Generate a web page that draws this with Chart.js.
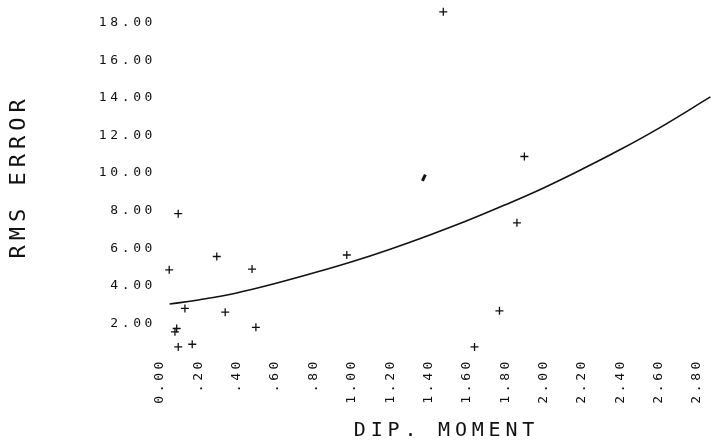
<!DOCTYPE html>
<html>
<head>
<meta charset="utf-8">
<script src="https://cdn.jsdelivr.net/npm/chart.js@4/dist/chart.umd.min.js"></script>
<style>
  html, body { margin: 0; padding: 0; background: #ffffff; }
  #c { display: block; }
</style>
</head>
<body>
<canvas id="c" width="713" height="442"></canvas>
<script>
// Measured RMS error against dipole moment
const dipMoment = [0.048, 0.095, 0.13, 0.087, 0.078, 0.095, 0.168, 0.296, 0.34, 0.48, 0.50, 0.974, 1.477, 1.64, 1.77, 1.861, 1.90, 2.885];
const rmsError  = [4.85, 7.84, 2.80, 1.73, 1.55, 0.75, 0.89, 5.56, 2.60, 4.89, 1.79, 5.64, 18.58, 0.75, 2.67, 7.35, 10.88, 15.1];

// Ink blot near the curve
const blotX = [1.376];
const blotY = [9.75];

// Fitted trend curve
const fitX = [0.05, 0.2, 0.4, 0.6, 0.8, 1.0, 1.2, 1.4, 1.6, 1.8, 2.0, 2.2, 2.4, 2.6, 2.87];
const fitY = [3.03, 3.25, 3.62, 4.12, 4.68, 5.28, 5.95, 6.68, 7.46, 8.31, 9.21, 10.20, 11.25, 12.38, 14.05];

// Axis tick labels
const xTickLabels = ['0.00', '.20', '.40', '.60', '.80', '1.00', '1.20', '1.40', '1.60', '1.80', '2.00', '2.20', '2.40', '2.60', '2.80'];
const yTickLabels = ['2.00', '4.00', '6.00', '8.00', '10.00', '12.00', '14.00', '16.00', '18.00'];

const INK = '#111111';
const MONO = '"DejaVu Sans Mono", "Liberation Mono", monospace';

const toPoints = (xs, ys) => xs.map((x, i) => ({ x, y: ys[i] }));

// Wide plotter-style letter spacing for all canvas text
const spacing = {
  id: 'spacing',
  beforeLayout(chart) { chart.ctx.letterSpacing = '3.6px'; },
  beforeDraw(chart) { chart.ctx.letterSpacing = '3.6px'; }
};

// Axis titles
const axisTitles = {
  id: 'axisTitles',
  afterDraw(chart) {
    const ctx = chart.ctx;
    const a = chart.chartArea;
    ctx.save();
    ctx.fillStyle = INK;
    ctx.textAlign = 'center';
    ctx.textBaseline = 'alphabetic';

    ctx.letterSpacing = '4.8px';
    ctx.font = '20px ' + MONO;
    ctx.fillText('DIP. MOMENT', (a.left + a.right) / 2 + 18, a.bottom + 75);

    ctx.letterSpacing = '5px';
    ctx.font = '22px ' + MONO;
    ctx.translate(25, (a.top + a.bottom) / 2 - 10);
    ctx.rotate(-Math.PI / 2);
    ctx.fillText('RMS ERROR', 0, 0);
    ctx.restore();
  }
};

new Chart(document.getElementById('c'), {
  type: 'scatter',
  data: {
    datasets: [
      {
        data: toPoints(fitX, fitY),
        showLine: true,
        borderColor: INK,
        borderWidth: 1.6,
        pointRadius: 0,
        tension: 0.4,
        clip: false
      },
      {
        data: toPoints(dipMoment, rmsError),
        pointStyle: 'cross',
        pointRadius: 4,
        borderWidth: 1.3,
        borderColor: INK,
        backgroundColor: INK,
        clip: false
      },
      {
        data: toPoints(blotX, blotY),
        pointStyle: 'line',
        rotation: -65,
        pointRadius: 3.5,
        borderWidth: 3,
        borderColor: INK,
        clip: false
      }
    ]
  },
  options: {
    responsive: false,
    devicePixelRatio: 1,
    animation: false,
    layout: { padding: { top: 7, right: 16, left: 0, bottom: 0 } },
    plugins: {
      legend: { display: false },
      tooltip: { enabled: false }
    },
    scales: {
      x: {
        type: 'linear',
        min: 0,
        max: 2.8,
        afterBuildTicks(scale) {
          scale.ticks = xTickLabels.map(l => ({ value: parseFloat(l) }));
        },
        afterFit(scale) { scale.height = 81; },
        grid: { display: false, drawTicks: false },
        border: { display: false },
        ticks: {
          autoSkip: false,
          minRotation: 90,
          maxRotation: 90,
          padding: -3,
          color: INK,
          font: { family: MONO, size: 13 },
          callback: (v, i) => xTickLabels[i]
        }
      },
      y: {
        type: 'linear',
        min: 0,
        max: 18.58,
        afterBuildTicks(scale) {
          scale.ticks = yTickLabels.map(l => ({ value: parseFloat(l) }));
        },
        afterFit(scale) { scale.width = 160; },
        grid: { display: false, drawTicks: false },
        border: { display: false },
        ticks: {
          padding: 4,
          color: INK,
          font: { family: MONO, size: 13 },
          callback: (v, i) => yTickLabels[i]
        }
      }
    }
  },
  plugins: [spacing, axisTitles]
});
</script>
</body>
</html>
